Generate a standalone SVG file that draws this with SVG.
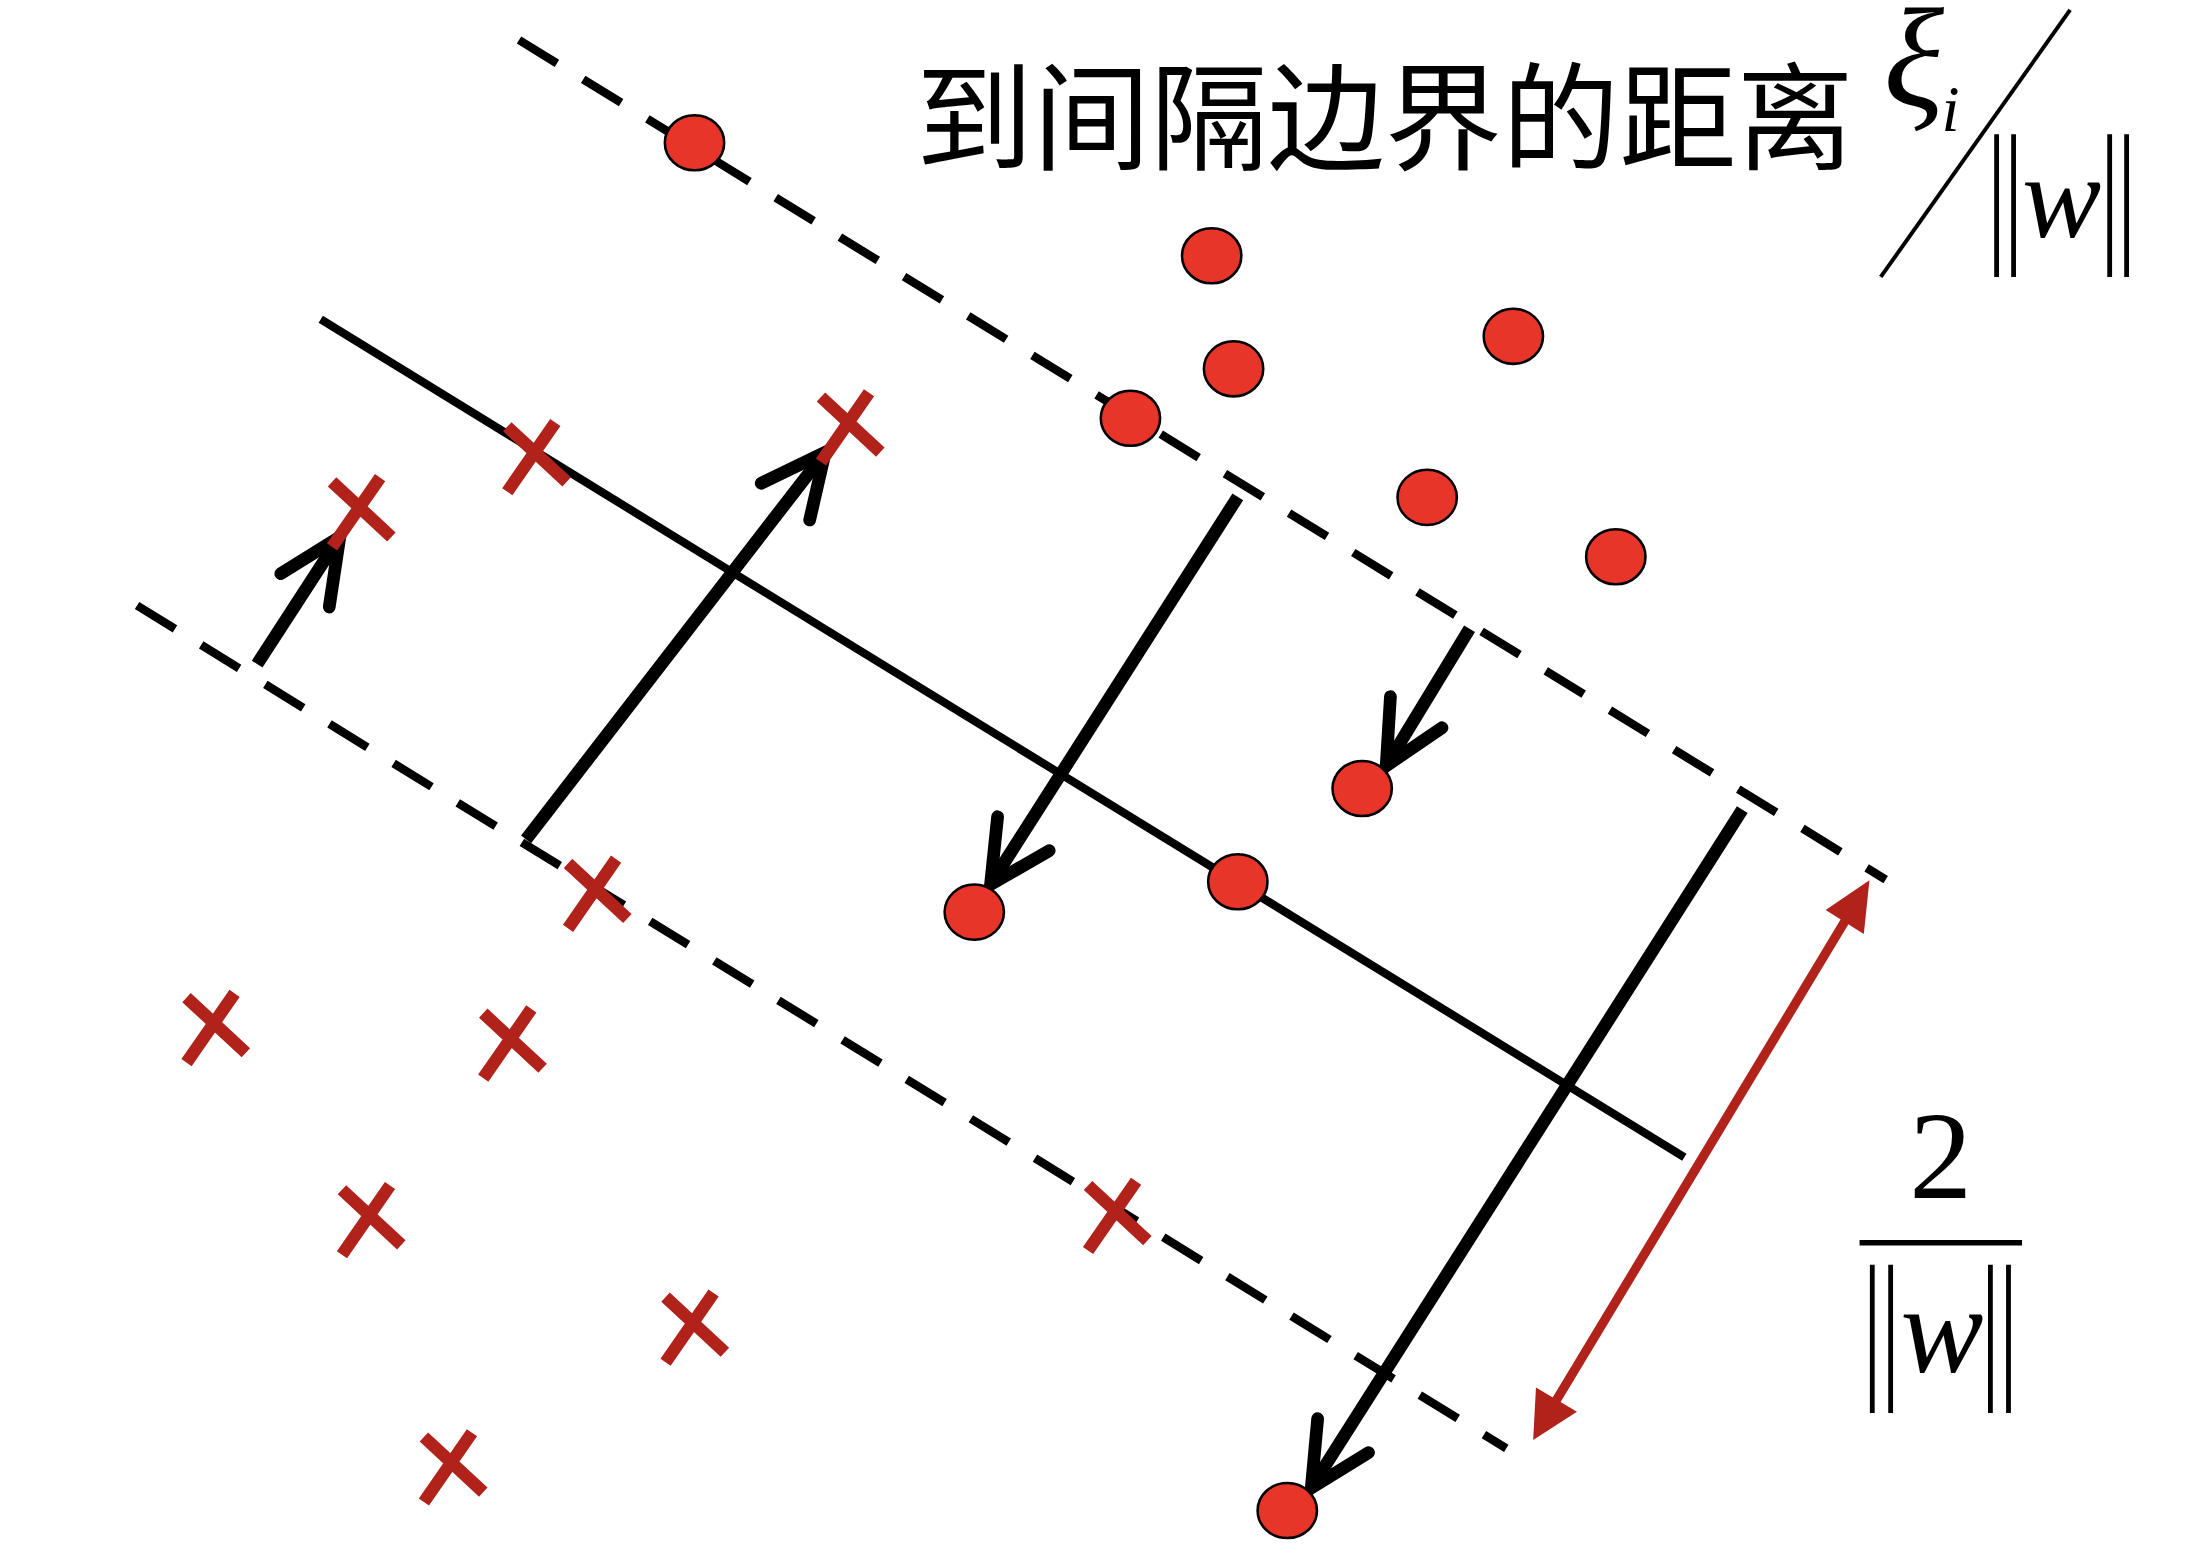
<svg xmlns="http://www.w3.org/2000/svg" width="2210" height="1564" viewBox="0 0 2210 1564">
<defs>
<style>
.dash{fill:none;stroke:#000;stroke-width:6;stroke-dasharray:31.5 21.8}
.solid{fill:none;stroke:#000;stroke-width:5.8}
.arr{fill:none;stroke:#000;stroke-width:9;stroke-linecap:butt}
.head{fill:none;stroke:#000;stroke-width:9;stroke-linecap:round;stroke-linejoin:miter;stroke-miterlimit:10}
.dot{fill:#e8352a;stroke:#000;stroke-width:1.8}
.cross{fill:none;stroke:#b0221a;stroke-width:8.8;stroke-linecap:butt}
.red{stroke:#b0221a;stroke-width:6.5;fill:none}
.redhead{fill:#b0221a}
.cjk{font-family:"Noto Sans CJK SC","Noto Sans CJK TC",sans-serif;font-size:83px;fill:#000}
.math{font-family:"Liberation Serif","DejaVu Serif",serif;font-style:italic;fill:#000}
.num{font-family:"Liberation Serif","DejaVu Serif",serif;fill:#000}
.bar{stroke:#000;stroke-width:3.4;fill:none}
</style>
<path id="xmark" d="M-20,24 L14,-25 M-20,-22 L22,17"/>
</defs>
<rect width="2210" height="1564" fill="#fff"/>
<g transform="scale(1.41304)">
<g id="connectors">
<path class="dash" d="M367.3,28.3 L1334.5,622.5"/>
<path class="dash" d="M97,428.5 L1066,1025"/>
<path class="solid" d="M227,226 L1192,819"/>
<path class="arr" d="M182,470 L237.5,384.5"/>
<polyline class="head" points="198.7,406 240.5,380 233,429.6"/>
<path class="arr" d="M372.3,594 L580.5,324.5"/>
<polyline class="head" points="538.7,342 584,320 573,368"/>
<path class="arr" d="M876,351.6 L704,621"/>
<polyline class="head" points="706,578 701,626 742.5,602"/>
<path class="arr" d="M1040,445 L984,537"/>
<polyline class="head" points="984,493 981,542 1020.5,515"/>
<path class="arr" d="M1233,573 L931,1048"/>
<polyline class="head" points="932.5,1004 928,1053 968.5,1028"/>
<path class="red" d="M1099,995 L1308,648"/>
<polygon class="redhead" points="1085,1019 1087,982 1116,999"/>
<polygon class="redhead" points="1323,623 1292,644 1319,661"/>
</g>
<g id="dot1"><ellipse class="dot" cx="491.5" cy="101" rx="21" ry="19.5"/></g>
<g id="dot2"><ellipse class="dot" cx="857.5" cy="181" rx="21" ry="19.5"/></g>
<g id="dot3"><ellipse class="dot" cx="873" cy="261" rx="21" ry="19.5"/></g>
<g id="dot4"><ellipse class="dot" cx="1071" cy="238" rx="21" ry="19.5"/></g>
<g id="dot5"><ellipse class="dot" cx="800" cy="296" rx="21" ry="19.5"/></g>
<g id="dot6"><ellipse class="dot" cx="1010" cy="352" rx="21" ry="19.5"/></g>
<g id="dot7"><ellipse class="dot" cx="1143.5" cy="394" rx="21" ry="19.5"/></g>
<g id="dot8"><ellipse class="dot" cx="964" cy="558" rx="21" ry="19.5"/></g>
<g id="dot9"><ellipse class="dot" cx="876" cy="624" rx="21" ry="19.5"/></g>
<g id="dot10"><ellipse class="dot" cx="689.5" cy="645.5" rx="21" ry="19.5"/></g>
<g id="dot11"><ellipse class="dot" cx="911" cy="1069" rx="21" ry="19.5"/></g>
<g id="cross1"><use href="#xmark" class="cross" x="379" y="324"/></g>
<g id="cross2"><use href="#xmark" class="cross" x="255" y="363"/></g>
<g id="cross3"><use href="#xmark" class="cross" x="601" y="303"/></g>
<g id="cross4"><use href="#xmark" class="cross" x="422" y="633"/></g>
<g id="cross5"><use href="#xmark" class="cross" x="152" y="728"/></g>
<g id="cross6"><use href="#xmark" class="cross" x="362" y="739"/></g>
<g id="cross7"><use href="#xmark" class="cross" x="262" y="864"/></g>
<g id="cross8"><use href="#xmark" class="cross" x="790" y="861"/></g>
<g id="cross9"><use href="#xmark" class="cross" x="491" y="940"/></g>
<g id="cross10"><use href="#xmark" class="cross" x="320" y="1039"/></g>
<g id="label-slack">
<text class="cjk" x="648" y="114">到间隔边界的距离</text>
<text class="math" x="1333" y="75" font-size="100">ξ</text>
<text class="math" x="1374" y="93" font-size="46">i</text>
<path d="M1465,7 L1331,196" stroke="#000" stroke-width="2.8" fill="none"/>
<path class="bar" d="M1413,95 V196 M1425,95 V196 M1493,95 V196 M1505,95 V196"/>
<text class="math" x="1431" y="168" font-size="84">w</text>
</g>
<g id="label-margin">
<text class="num" x="1373.5" y="847.5" font-size="89" text-anchor="middle">2</text>
<path d="M1316,879.5 H1431" stroke="#000" stroke-width="4" fill="none"/>
<path class="bar" d="M1325,895 V1000 M1338,895 V1000 M1408.6,895 V1000 M1421.4,895 V1000"/>
<text class="math" x="1345" y="971" font-size="88">w</text>
</g>
</g>
</svg>
